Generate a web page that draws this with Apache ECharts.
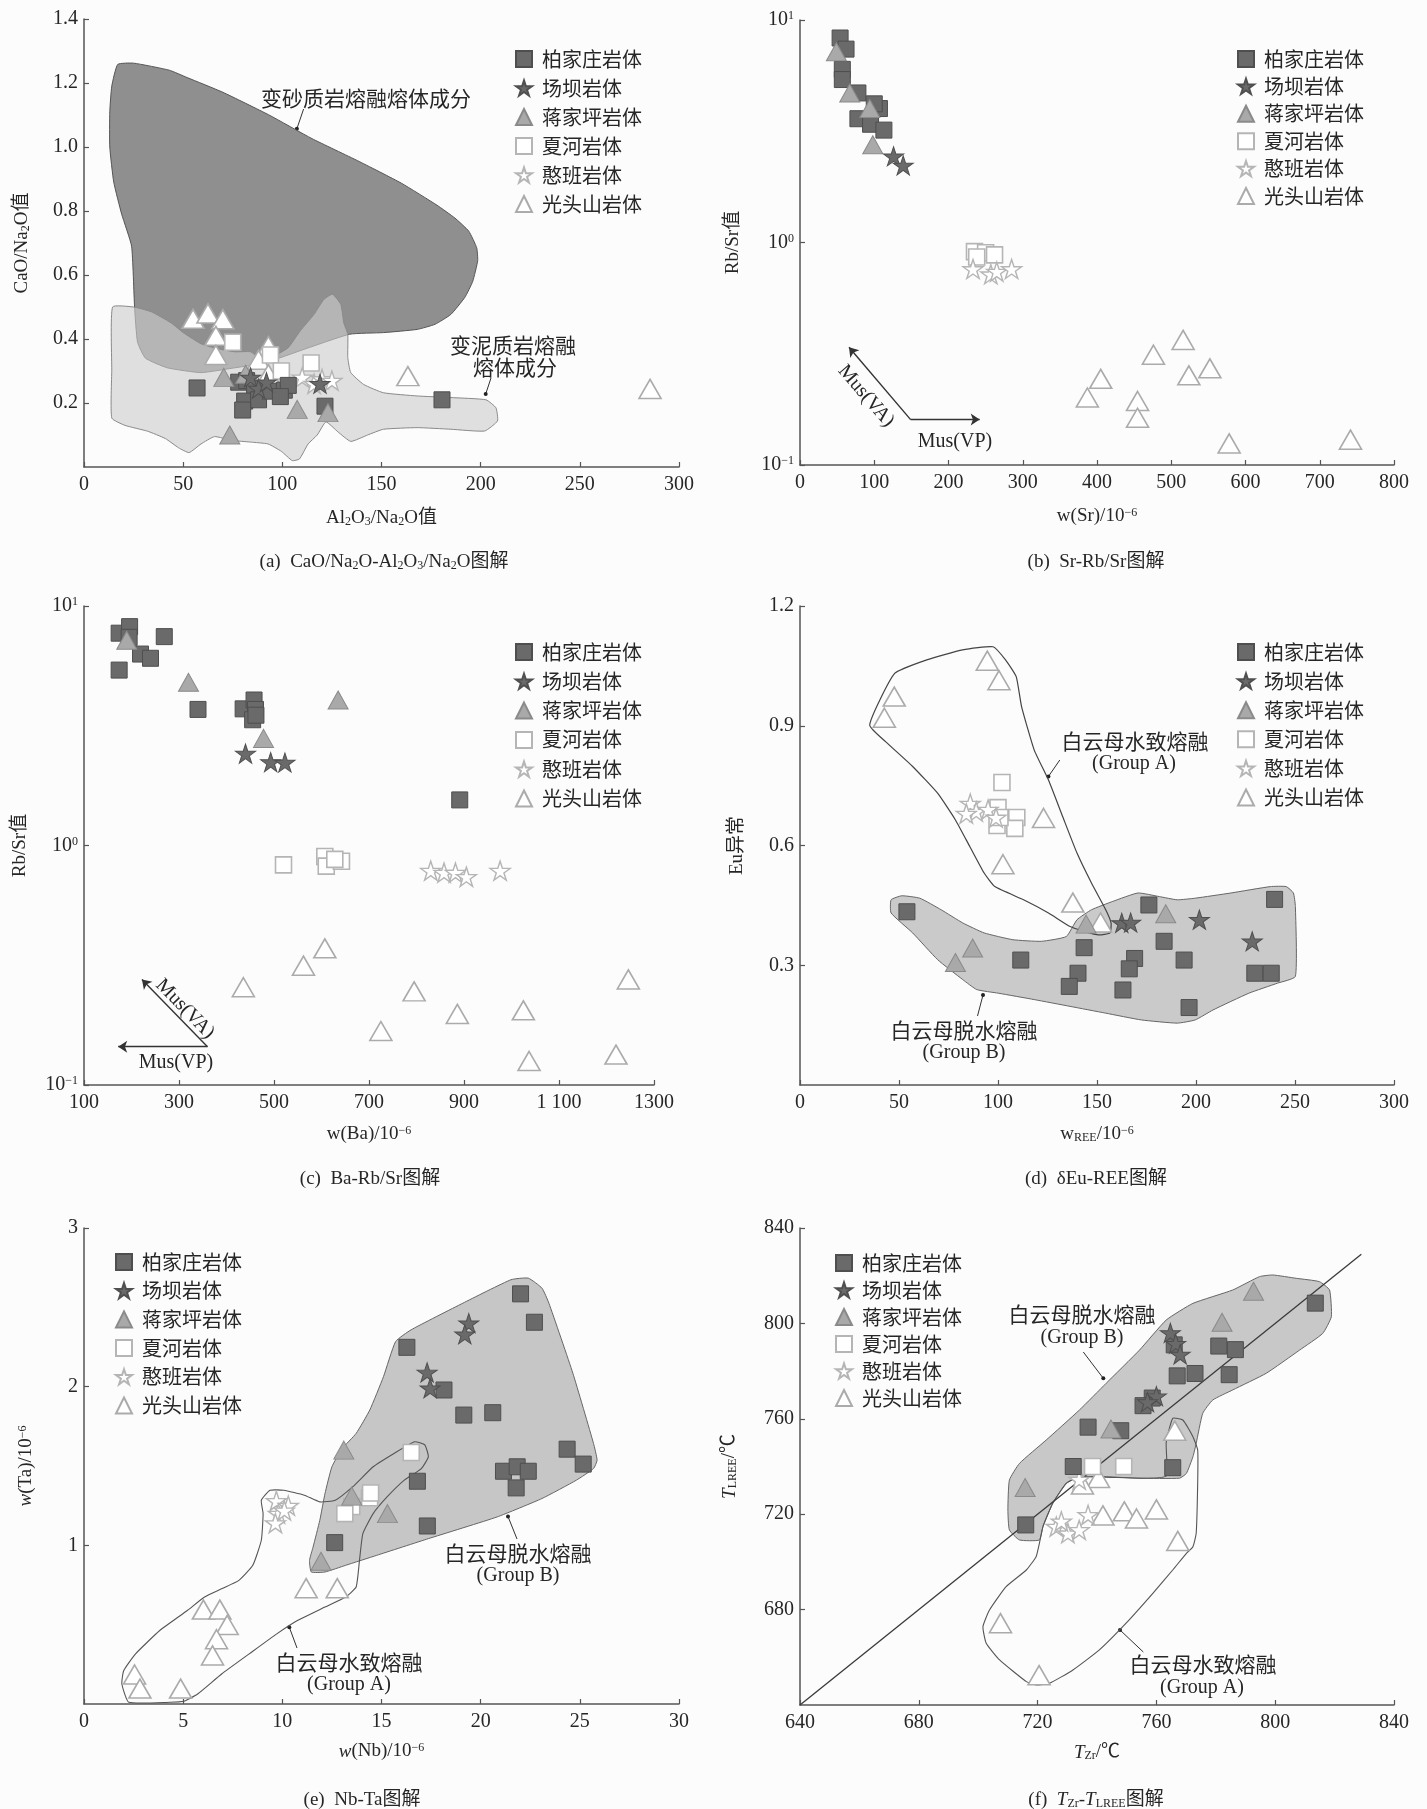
<!DOCTYPE html>
<html><head><meta charset="utf-8">
<script src="https://cdn.jsdelivr.net/npm/echarts/dist/echarts.min.js"></script>
<style>html,body{margin:0;padding:0;background:#fcfcfc}#c{width:1427px;height:1809px}</style>
</head><body><div id="c"></div>
<script>
// ---------- legend / series names ----------
const seriesNames = ['柏家庄岩体','场坝岩体','蒋家坪岩体','夏河岩体','憨班岩体','光头山岩体'];

// ---------- (a) CaO/Na2O - Al2O3/Na2O ----------
const aBJZ = [[57,0.247],[78,0.265],[82,0.27],[86,0.245],[81,0.206],[88,0.21],[80,0.178],[94,0.237],[101,0.24],[103,0.255],[99,0.22],[121.5,0.19],[180.5,0.21]];
const aCB  = [[84,0.28],[88,0.245],[92,0.265],[119,0.26]];
const aJJP = [[70.5,0.28],[81.5,0.29],[107.5,0.18],[123,0.17],[73.5,0.1]];
const aXH  = [[75,0.39],[94,0.35],[99.5,0.30],[114.5,0.325]];
const aHB  = [[110,0.28],[116,0.26],[120,0.275],[125,0.27]];
const aGTS = [[55,0.463],[62.5,0.48],[70,0.462],[66.5,0.41],[66.5,0.35],[93,0.378],[88,0.335],[93,0.29],[163.3,0.284],[285.4,0.244]];
const aPsammiteField = [[17,1.258],[25,1.262],[43,1.24],[52,1.217],[70,1.171],[93,1.101],[115,1.026],[138,0.957],[160,0.887],[178,0.818],[187,0.778],[194,0.737],[198,0.685],[198.5,0.645],[196,0.58],[192,0.53],[185,0.477],[177,0.446],[168,0.43],[151,0.42],[134,0.415],[112,0.37],[91,0.325],[76,0.31],[59,0.295],[42,0.31],[31,0.34],[27,0.39],[25.5,0.5],[24,0.69],[19,0.79],[15,0.89],[13,1.0],[13,1.11],[14,1.19]];
const aPeliteField = [[14.4,0.5],[25,0.5],[34,0.485],[44,0.45],[50,0.42],[59,0.385],[67,0.37],[76,0.36],[84,0.36],[91,0.33],[97,0.35],[103,0.373],[109,0.425],[116,0.477],[121,0.524],[125.3,0.54],[129.5,0.508],[131,0.45],[133,0.415],[133,0.342],[134.5,0.295],[141,0.258],[151,0.232],[168,0.222],[185,0.217],[202.7,0.21],[207.7,0.185],[208.5,0.144],[202,0.1125],[185,0.118],[168,0.123],[151,0.118],[143,0.10],[134.5,0.08],[128,0.11],[122,0.141],[117.6,0.10],[113,0.072],[108.6,0.025],[105,0.02],[99.5,0.049],[92.8,0.072],[83.8,0.078],[74.8,0.083],[65.8,0.095],[59,0.072],[53,0.045],[47.7,0.06],[41,0.089],[32,0.112],[20.7,0.13],[14,0.153],[14,0.303]];

// ---------- (b) Sr - Rb/Sr ----------
const bBJZ = [[54,8.3],[62,7.4],[57,6.0],[57,5.4],[78,4.7],[107,4.0],[100,4.2],[78,3.6],[95,3.4],[113,3.2]];
const bCB  = [[126,2.44],[139,2.22]];
const bJJP = [[49,7.2],[67,4.7],[94,4.0],[98,2.75]];
const bXH  = [[235,0.91],[250,0.9],[262,0.88],[238,0.86]];
const bHB  = [[233,0.76],[257,0.72],[265,0.74],[285,0.76]];
const bGTS = [[516,0.365],[476,0.313],[405,0.244],[387,0.201],[454.6,0.194],[454.6,0.163],[523.7,0.253],[552,0.272],[578,0.125],[741.4,0.13]];
const bMusOrigin = [149,0.16], bMusVA = [66,0.338], bMusVP = [242,0.16];

// ---------- (c) Ba - Rb/Sr ----------
const cBJZ = [[174,7.7],[196,8.2],[195,7.4],[269,7.45],[219,6.3],[240,6.05],[174,5.4],[340,3.7],[435,3.72],[458,4.05],[461,3.7],[455,3.35],[462,3.5],[891,1.55]];
const cCB  = [[440,2.42],[493,2.23],[523,2.22]];
const cJJP = [[190,7.2],[320,4.8],[478,2.8],[635,4.05]];
const cXH  = [[520,0.83],[607,0.9],[610,0.82],[642,0.86],[628,0.875]];
const cHB  = [[830,0.785],[858,0.77],[882,0.77],[905,0.74],[976,0.785]];
const cGTS = [[435.5,0.256],[562,0.315],[607,0.372],[725,0.168],[795,0.246],[886,0.198],[1025,0.205],[1037,0.126],[1220,0.134],[1246,0.276]];
const cMusOrigin = [360,0.1445], cMusVA = [222,0.276], cMusVP = [172,0.1445];

// ---------- (d) dEu - REE ----------
const dBJZ = [[54,0.434],[111.5,0.313],[143.5,0.344],[140.4,0.28],[136,0.247],[163.1,0.238],[169,0.317],[166.3,0.291],[176.2,0.451],[183.9,0.36],[194,0.313],[196.5,0.194],[229.7,0.28],[238,0.28],[239.7,0.465]];
const dCB  = [[162.5,0.406],[167,0.407],[201.7,0.414],[228.4,0.36]];
const dJJP = [[78.5,0.307],[87.2,0.343],[144.5,0.403],[184.7,0.429]];
const dXH  = [[102,0.758],[100,0.695],[109.5,0.67],[108.5,0.643],[99.5,0.65],[101,0.67]];
const dHB  = [[86,0.705],[89,0.685],[84,0.68],[95,0.69],[99,0.67]];
const dGTS = [[94.6,1.063],[100.5,1.014],[47.6,0.973],[42.6,0.92],[123,0.669],[102.5,0.553],[137.8,0.457],[151.8,0.407]];
const dGroupA = [[35.2,0.902],[47.8,1.031],[64,1.065],[82.1,1.09],[97.5,1.098],[103.8,1.065],[109.2,1.023],[111.9,0.948],[118.3,0.839],[125.5,0.764],[132.7,0.672],[139.9,0.581],[147.2,0.506],[154.4,0.439],[157.1,0.406],[156.6,0.381],[150.8,0.376],[143.6,0.385],[136.4,0.397],[125.5,0.431],[112.9,0.464],[98.4,0.497],[93,0.531],[85.8,0.597],[78.5,0.664],[69.5,0.731],[56.9,0.798],[44.2,0.856]];
const dGroupB = [[46,0.464],[51.4,0.474],[60.5,0.468],[71.3,0.439],[82.2,0.406],[93,0.381],[107.5,0.364],[121.9,0.36],[134.5,0.372],[139.9,0.414],[147.2,0.439],[158,0.46],[170.7,0.481],[181.5,0.472],[190.5,0.464],[199.6,0.468],[217.6,0.481],[237.5,0.497],[245.6,0.497],[249.2,0.481],[250.2,0.447],[250.2,0.272],[241.1,0.255],[226.7,0.23],[208.6,0.188],[199.6,0.163],[190.5,0.155],[172.4,0.163],[154.4,0.18],[136.4,0.197],[118.3,0.214],[100.2,0.23],[89.3,0.239],[82.2,0.264],[69.5,0.314],[56.9,0.381],[46,0.431]];

// ---------- (e) Nb - Ta ----------
const eBJZ = [[16.28,2.248],[22.01,2.585],[22.71,2.406],[18.15,1.979],[19.15,1.821],[20.61,1.836],[24.36,1.606],[25.17,1.512],[21.15,1.467],[21.84,1.495],[22.4,1.467],[21.79,1.362],[16.81,1.404],[17.31,1.122],[12.64,1.017]];
const eCB  = [[19.4,2.4],[19.2,2.33],[17.3,2.09],[17.45,1.99]];
const eJJP = [[13.1,1.6],[15.3,1.2],[11.95,0.9],[13.5,1.31]];
const eXH  = [[16.5,1.585],[14.4,1.3],[14.45,1.33],[13.5,1.245],[13.15,1.2]];
const eHB  = [[9.7,1.28],[10.3,1.25],[9.8,1.2],[9.65,1.14],[10.1,1.22]];
const eGTS = [[6.02,0.595],[6.85,0.595],[7.22,0.498],[6.68,0.408],[6.48,0.306],[2.55,0.186],[2.82,0.097],[4.87,0.097],[11.2,0.73],[12.77,0.73]];
const eGroupB = [[11.46,0.832],[11.37,0.905],[11.55,0.989],[11.89,1.158],[12.15,1.326],[12.5,1.495],[13.02,1.61],[13.72,1.705],[14.41,1.853],[15.1,2.063],[15.71,2.284],[16.49,2.358],[19.1,2.526],[21.53,2.674],[22.4,2.684],[23.09,2.621],[23.44,2.526],[24.65,2.084],[25.69,1.642],[25.87,1.537],[25.69,1.484],[24.83,1.411],[23.09,1.295],[20.83,1.179],[17.36,1.042],[14.76,0.937],[13.19,0.874],[12.15,0.832]];
const eGroupA = [[2.26,0.011],[1.91,0.126],[2.0,0.21],[2.6,0.316],[3.82,0.463],[5.21,0.589],[6.08,0.674],[6.94,0.726],[7.81,0.779],[8.51,0.874],[8.94,1.032],[9.03,1.2],[8.94,1.284],[9.38,1.347],[10.07,1.347],[11.11,1.316],[11.89,1.274],[12.67,1.284],[13.54,1.368],[14.58,1.495],[15.63,1.579],[16.67,1.653],[17.19,1.632],[17.36,1.558],[17.01,1.484],[16.15,1.411],[15.28,1.305],[14.58,1.2],[14.06,1.074],[13.89,0.905],[13.72,0.737],[13.19,0.674],[12.15,0.611],[10.76,0.526],[9.72,0.442],[8.33,0.316],[6.94,0.189],[5.73,0.063],[5.03,0.017],[4.34,0.011]];

// ---------- (f) TZr - TLREE ----------
const fBJZ = [[813.5,808.5],[766,791],[767,778],[773,779],[781,790.5],[786.6,789],[784.5,778.5],[758.6,768.7],[755.5,765.5],[737,756.5],[748,755],[732,740],[765.5,739.5],[716,715.5]];
const fCB  = [[764.7,796],[766.5,791.5],[768,787],[760,769.5],[757,767]];
const fJJP = [[715.8,731.2],[744.7,755.7],[782.1,800.5],[792.7,813.5]];
const fXH  = [[738.5,740],[749,740]];
const fHB  = [[734,734.5],[726.3,714.8],[730.2,712],[734,713.4],[737,719.7],[728,717]];
const fGTS = [[766.2,755],[740.5,735.2],[735.1,732.5],[742,719.5],[749.2,721.2],[753.3,718.2],[760,722],[767.2,708.8],[707.5,674.3],[720.5,652.5]];
const fGroupB = [[710.5,734.3],[713.9,741.3],[722.9,751.1],[734.1,763.7],[743.1,774.9],[754.3,788.8],[763.3,801.4],[772.3,808.4],[785.7,814],[794.7,819.6],[799.2,820.3],[807.1,818.9],[814.9,817.5],[818.3,814],[818.9,802.8],[816,795.8],[808.2,788.8],[797,779.1],[785.7,772.1],[779,767.9],[775.6,762.3],[773.4,749.7],[772.3,744.1],[770.1,737.1],[767.8,735.1],[754.3,735.1],[743.1,735.7],[734.1,735.7],[729.7,733],[725.1,724.6],[721.8,714.8],[720.6,709.2],[713.9,709.2],[710.5,713.4],[710,721.8]];
const fGroupA = [[720.6,707.8],[721.8,714.8],[725.1,724.6],[729.7,733],[734.1,735.7],[754.3,735.1],[763.3,736],[763.3,750],[765.5,760.2],[768.9,759.5],[772.3,752.5],[773.9,746.9],[773.9,733],[773.4,712],[772.3,706.4],[770.1,703.6],[765.5,696.6],[758.8,686.8],[749.8,674.3],[740.8,663.1],[731.9,654.7],[724,649.1],[719.5,648.4],[716.2,649.8],[707.2,658.9],[702.7,665.9],[701.6,672.8],[703.8,679.8],[709.4,689.6],[716.2,696.6],[719.5,702.2]];
const fEqualLine = [[640,640],[829,829]];

// ---------- styling ----------
const STAR = 'path://M50,0L61.2,34.5L97.6,34.5L68.2,55.9L79.4,90.5L50,69.1L20.6,90.5L31.8,55.9L2.4,34.5L38.8,34.5Z';
const SYM = {
  '柏家庄岩体': {symbol:'rect', size:16, color:'#6a6a6a', border:'#4f4f4f', bw:1},
  '场坝岩体':   {symbol:STAR, size:[20,19], color:'#6a6a6a', border:'#4f4f4f', bw:1},
  '蒋家坪岩体': {symbol:'triangle', size:[20,18], color:'#a9a9a9', border:'#8a8a8a', bw:1},
  '夏河岩体':   {symbol:'rect', size:16, color:'#ffffff', border:'#b5b5b5', bw:1.6},
  '憨班岩体':   {symbol:STAR, size:[20,19], color:'#ffffff', border:'#b5b5b5', bw:1.4},
  '光头山岩体': {symbol:'triangle', size:[22,19], color:'#ffffff', border:'#ababab', bw:1.6}
};
const SERIF = "'Liberation Serif','Noto Sans CJK SC',serif";
const CJK = "'Noto Sans CJK SC','Liberation Serif',sans-serif";
const INK = '#262626';

function scat(g, name, data){
  const s = SYM[name];
  return {type:'scatter', name, xAxisIndex:g, yAxisIndex:g, data, symbol:s.symbol, symbolSize:s.size,
    itemStyle:{color:s.color, borderColor:s.border, borderWidth:s.bw, opacity:1}, z:3, silent:true};
}
function poly(g, pts, fill, stroke, lw, z){
  return {type:'custom', xAxisIndex:g, yAxisIndex:g, silent:true, z:z||1, data:[pts[0]],
    renderItem:(p, api)=>({type:'polygon', shape:{points:pts.map(q=>api.coord(q)), smooth:0.15},
      style:{fill:fill, stroke:stroke, lineWidth:lw}})};
}
function group(g, d){
  return [scat(g,'光头山岩体',d[5]), scat(g,'夏河岩体',d[3]), scat(g,'憨班岩体',d[4]),
          scat(g,'柏家庄岩体',d[0]), scat(g,'蒋家坪岩体',d[2]), scat(g,'场坝岩体',d[1])];
}
const richName = {
  sub:{fontSize:12, verticalAlign:'bottom', fontFamily:SERIF, color:INK},
  sup:{fontSize:12, verticalAlign:'top', fontFamily:SERIF, color:INK},
  i:{fontStyle:'italic', fontSize:19, fontFamily:SERIF, color:INK}
};
const axLine = {show:true, lineStyle:{color:'#555', width:1.5}};
const axTick = {show:true, inside:true, length:5, lineStyle:{color:'#555', width:1.2}};
const lblBase = {fontFamily:SERIF, fontSize:20, color:INK};
const nameStyle = {fontFamily:SERIF, fontSize:19, color:INK, rich:richName};
function xAx(g, min, max, interval, name, gap, fmt){
  return {type:'value', gridIndex:g, min, max, interval, name, nameLocation:'middle', nameGap:gap,
    nameTextStyle:nameStyle, axisLine:axLine, axisTick:axTick, splitLine:{show:false},
    axisLabel:Object.assign({margin:8, formatter:fmt||(v=>String(v))}, lblBase)};
}
function yAx(g, min, max, interval, name, gap, fmt){
  return {type:'value', gridIndex:g, min, max, interval, name, nameLocation:'middle', nameGap:gap, nameRotate:90,
    nameTextStyle:nameStyle, axisLine:axLine, axisTick:axTick, splitLine:{show:false},
    axisLabel:Object.assign({margin:6, showMinLabel:false, formatter:fmt||(v=>String(v))}, lblBase)};
}
function yLog(g, name, gap){
  return {type:'log', logBase:10, gridIndex:g, min:0.1, max:10, name, nameLocation:'middle', nameGap:gap, nameRotate:90,
    nameTextStyle:nameStyle, axisLine:axLine, axisTick:axTick, splitLine:{show:false}, minorTick:{show:false},
    axisLabel:Object.assign({margin:6, formatter:v=>{const e=Math.round(Math.log10(v)); return '10{sup|'+(e<0?'−'+(-e):e)+'}';},
      rich:{sup:{fontSize:12, verticalAlign:'top', fontFamily:SERIF, color:INK}}}, lblBase)};
}
function legendAt(left, top, gap){
  return {left, top, orient:'vertical', itemWidth:16, itemHeight:16, itemGap:gap, selectedMode:false,
    data:seriesNames, textStyle:{fontFamily:CJK, fontSize:20, color:INK, lineHeight:20, padding:[0,0,0,5]}};
}
const richText = {
  s:{fontSize:12, verticalAlign:'bottom', fontFamily:SERIF, fill:INK},
  i:{fontStyle:'italic', fontFamily:SERIF, fontSize:19, fill:INK}
};
function txt(x, y, text, size, family, rotation){
  return {type:'text', x, y, rotation:rotation||0, silent:true,
    style:{text, fill:INK, fontSize:size, fontFamily:family||CJK, align:'center', verticalAlign:'middle', rich:richText}};
}
function leader(x1,y1,x2,y2){
  return [{type:'line', silent:true, shape:{x1,y1,x2,y2}, style:{stroke:'#333', lineWidth:1}},
          {type:'circle', silent:true, shape:{cx:x2, cy:y2, r:2}, style:{fill:'#222'}}];
}

const fmt1 = v=>v.toFixed(1);
const series = [
  poly(0, aPsammiteField, '#8f8f8f', '#555', 1, 1),
  poly(0, aPeliteField, 'rgba(205,205,205,0.62)', '#8a8a8a', 1, 2),
  ...group(0,[aBJZ,aCB,aJJP,aXH,aHB,aGTS]),
  ...group(1,[bBJZ,bCB,bJJP,bXH,bHB,bGTS]),
  {type:'lines', coordinateSystem:'cartesian2d', xAxisIndex:1, yAxisIndex:1, symbol:['none','arrow'], symbolSize:9, silent:true, z:4,
    lineStyle:{color:'#333', width:1.4, opacity:1}, data:[{coords:[bMusOrigin,bMusVA]},{coords:[bMusOrigin,bMusVP]}]},
  ...group(2,[cBJZ,cCB,cJJP,cXH,cHB,cGTS]),
  {type:'lines', coordinateSystem:'cartesian2d', xAxisIndex:2, yAxisIndex:2, symbol:['none','arrow'], symbolSize:9, silent:true, z:4,
    lineStyle:{color:'#333', width:1.4, opacity:1}, data:[{coords:[cMusOrigin,cMusVA]},{coords:[cMusOrigin,cMusVP]}]},
  poly(3, dGroupB, '#cacaca', '#666', 1, 1),
  poly(3, dGroupA, 'rgba(0,0,0,0)', '#444', 1.2, 2),
  ...group(3,[dBJZ,dCB,dJJP,dXH,dHB,dGTS]),
  poly(4, eGroupB, '#c6c6c6', '#666', 1, 1),
  poly(4, eGroupA, 'rgba(0,0,0,0)', '#555', 1.1, 2),
  ...group(4,[eBJZ,eCB,eJJP,eXH,eHB,eGTS]),
  poly(5, fGroupB, '#c8c8c8', '#666', 1, 1),
  poly(5, fGroupA, 'rgba(0,0,0,0)', '#555', 1.1, 2),
  {type:'line', xAxisIndex:5, yAxisIndex:5, data:fEqualLine, showSymbol:false, symbol:'none', silent:true, z:2,
    lineStyle:{color:'#3a3a3a', width:1.3}},
  ...group(5,[fBJZ,fCB,fJJP,fXH,fHB,fGTS])
];

const graphic = [
  // captions
  txt(384, 562, '(a)  CaO/Na{s|2}O-Al{s|2}O{s|3}/Na{s|2}O图解', 19, SERIF),
  txt(1096, 562, '(b)  Sr-Rb/Sr图解', 19, SERIF),
  txt(370, 1179, '(c)  Ba-Rb/Sr图解', 19, SERIF),
  txt(1096, 1179, '(d)  δEu-REE图解', 19, SERIF),
  txt(362, 1800, '(e)  Nb-Ta图解', 19, SERIF),
  txt(1096, 1800, '(f)  {i|T}{s|Zr}-{i|T}{s|LREE}图解', 19, SERIF),
  // (a) annotations
  txt(366, 98, '变砂质岩熔融熔体成分', 21),
  ...leader(303.6,109,296.9,128.7),
  txt(513, 345, '变泥质岩熔融', 21),
  txt(515, 367, '熔体成分', 21),
  ...leader(491,378,485.7,394),
  // (b) Mus labels
  txt(866, 396, 'Mus(VA)', 20, SERIF, -0.86),
  txt(955, 442, 'Mus(VP)', 20, SERIF),
  // (c) Mus labels
  txt(185, 1009, 'Mus(VA)', 20, SERIF, -0.8),
  txt(176, 1063, 'Mus(VP)', 20, SERIF),
  // (d) annotations
  txt(1135, 741, '白云母水致熔融', 21),
  txt(1134, 764, '(Group A)', 20, SERIF),
  ...leader(1059.8,760,1048.4,776.5),
  txt(964, 1030, '白云母脱水熔融', 21),
  txt(964, 1053, '(Group B)', 20, SERIF),
  ...leader(977.5,1016,983,995),
  // (e) annotations
  txt(518, 1553, '白云母脱水熔融', 21),
  txt(518, 1576, '(Group B)', 20, SERIF),
  ...leader(517,1539,508,1516.5),
  txt(349, 1662, '白云母水致熔融', 21),
  txt(349, 1685, '(Group A)', 20, SERIF),
  ...leader(297,1648,289.3,1627.2),
  // (f) annotations
  txt(1082, 1314, '白云母脱水熔融', 21),
  txt(1082, 1338, '(Group B)', 20, SERIF),
  ...leader(1083.3,1352,1103.3,1378.3),
  txt(1203, 1664, '白云母水致熔融', 21),
  txt(1202, 1688, '(Group A)', 20, SERIF),
  ...leader(1143.3,1652,1120,1630)
];

const option = {
  animation:false,
  backgroundColor:'#fcfcfc',
  grid:[
    {left:84, top:19, width:595, height:448, outerBoundsMode:'none'},
    {left:800, top:20, width:594, height:445, outerBoundsMode:'none'},
    {left:84, top:606, width:570, height:479, outerBoundsMode:'none'},
    {left:800, top:606, width:594, height:479, outerBoundsMode:'none'},
    {left:84, top:1228, width:595, height:476, outerBoundsMode:'none'},
    {left:800, top:1228, width:594, height:477, outerBoundsMode:'none'}
  ],
  xAxis:[
    xAx(0, 0, 300, 50, 'Al{sub|2}O{sub|3}/Na{sub|2}O值', 42),
    xAx(1, 0, 800, 100, 'w(Sr)/10{sup|−6}', 42),
    xAx(2, 100, 1300, 200, 'w(Ba)/10{sup|−6}', 40, v=>v===1100?'1 100':String(v)),
    xAx(3, 0, 300, 50, 'w{sub|REE}/10{sup|−6}', 40),
    xAx(4, 0, 30, 5, '{i|w}(Nb)/10{sup|−6}', 38),
    xAx(5, 640, 840, 40, '{i|T}{sub|Zr}/℃', 38)
  ],
  yAxis:[
    yAx(0, 0, 1.4, 0.2, 'CaO/Na{sub|2}O值', 52, fmt1),
    yLog(1, 'Rb/Sr值', 57),
    yLog(2, 'Rb/Sr值', 54),
    yAx(3, 0, 1.2, 0.3, 'Eu异常', 53, fmt1),
    yAx(4, 0, 3, 1, '{i|w}(Ta)/10{sup|−6}', 48),
    yAx(5, 640, 840, 40, '{i|T}{sub|LREE}/℃', 61)
  ],
  legend:[
    legendAt(510, 44, 9),
    legendAt(1232, 44, 7.4),
    legendAt(510, 637, 9.3),
    legendAt(1232, 637, 9.1),
    legendAt(110, 1247, 8.7),
    legendAt(830, 1248, 7)
  ],
  series,
  graphic
};
const chart = echarts.init(document.getElementById('c'), null, {renderer:'canvas'});
chart.setOption(option);
</script></body></html>
